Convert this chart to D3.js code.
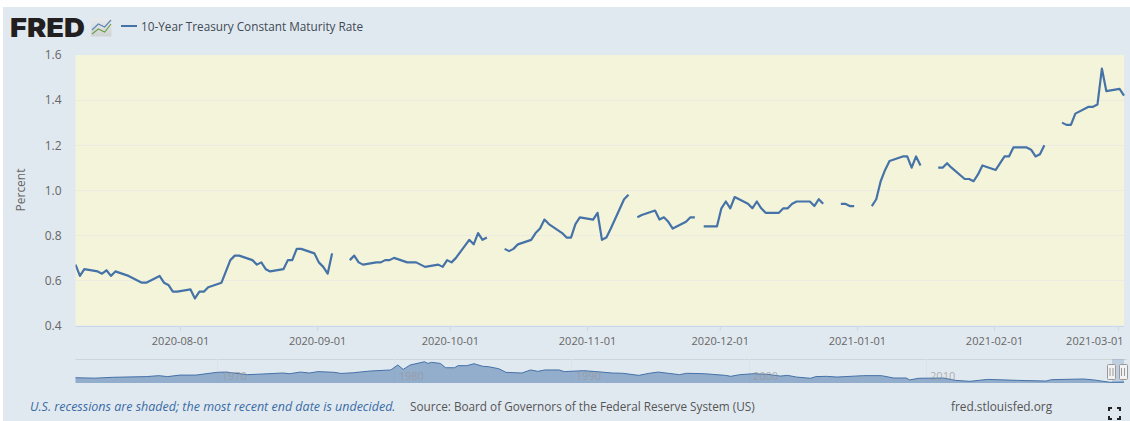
<!DOCTYPE html>
<html><head><meta charset="utf-8">
<script src="https://cdn.jsdelivr.net/npm/d3@7/dist/d3.min.js"></script>
<style>
html,body{margin:0;padding:0;background:#fff;overflow:hidden}
svg{display:block;font-family:"Open Sans",sans-serif}
</style></head><body><div id="chart"></div>
<script>
const seriesName = "10-Year Treasury Constant Maturity Rate";
const dates = ["2020-07-08","2020-07-09","2020-07-10","2020-07-13","2020-07-14","2020-07-15","2020-07-16","2020-07-17","2020-07-20","2020-07-21","2020-07-22","2020-07-23","2020-07-24","2020-07-27","2020-07-28","2020-07-29","2020-07-30","2020-07-31",
"2020-08-03","2020-08-04","2020-08-05","2020-08-06","2020-08-07","2020-08-10","2020-08-11","2020-08-12","2020-08-13","2020-08-14","2020-08-17","2020-08-18","2020-08-19","2020-08-20","2020-08-21","2020-08-24","2020-08-25","2020-08-26","2020-08-27","2020-08-28","2020-08-31",
"2020-09-01","2020-09-02","2020-09-03","2020-09-04","2020-09-07","2020-09-08","2020-09-09","2020-09-10","2020-09-11","2020-09-14","2020-09-15","2020-09-16","2020-09-17","2020-09-18","2020-09-21","2020-09-22","2020-09-23","2020-09-24","2020-09-25","2020-09-28","2020-09-29","2020-09-30",
"2020-10-01","2020-10-02","2020-10-05","2020-10-06","2020-10-07","2020-10-08","2020-10-09","2020-10-12","2020-10-13","2020-10-14","2020-10-15","2020-10-16","2020-10-19","2020-10-20","2020-10-21","2020-10-22","2020-10-23","2020-10-26","2020-10-27","2020-10-28","2020-10-29","2020-10-30",
"2020-11-02","2020-11-03","2020-11-04","2020-11-05","2020-11-06","2020-11-09","2020-11-10","2020-11-11","2020-11-12","2020-11-13","2020-11-16","2020-11-17","2020-11-18","2020-11-19","2020-11-20","2020-11-23","2020-11-24","2020-11-25","2020-11-26","2020-11-27","2020-11-30",
"2020-12-01","2020-12-02","2020-12-03","2020-12-04","2020-12-07","2020-12-08","2020-12-09","2020-12-10","2020-12-11","2020-12-14","2020-12-15","2020-12-16","2020-12-17","2020-12-18","2020-12-21","2020-12-22","2020-12-23","2020-12-24","2020-12-25","2020-12-28","2020-12-29","2020-12-30","2020-12-31",
"2021-01-01","2021-01-04","2021-01-05","2021-01-06","2021-01-07","2021-01-08","2021-01-11","2021-01-12","2021-01-13","2021-01-14","2021-01-15","2021-01-18","2021-01-19","2021-01-20","2021-01-21","2021-01-22","2021-01-25","2021-01-26","2021-01-27","2021-01-28","2021-01-29",
"2021-02-01","2021-02-02","2021-02-03","2021-02-04","2021-02-05","2021-02-08","2021-02-09","2021-02-10","2021-02-11","2021-02-12","2021-02-15","2021-02-16","2021-02-17","2021-02-18","2021-02-19","2021-02-22","2021-02-23","2021-02-24","2021-02-25","2021-02-26","2021-03-01","2021-03-02"];
const rates = [.67,.62,.65,.64,.63,.645,.62,.64,.62,.61,.60,.59,.59,.62,.59,.58,.55,.55,
.56,.52,.55,.55,.57,.59,.64,.69,.71,.71,.69,.67,.68,.65,.64,.65,.69,.69,.74,.74,.72,
.68,.66,.63,.72,null,.69,.71,.68,.67,.68,.68,.69,.69,.70,.68,.68,.68,.67,.66,.67,.66,.69,
.68,.70,.78,.76,.81,.78,.79,null,.74,.73,.74,.76,.78,.81,.83,.87,.85,.81,.79,.79,.85,.88,
.87,.90,.78,.79,.83,.96,.98,null,.88,.89,.91,.87,.88,.86,.83,.86,.88,.88,null,.84,.84,
.92,.95,.92,.97,.94,.92,.95,.92,.90,.90,.92,.92,.94,.95,.95,.93,.96,.94,null,.94,.94,.93,.93,
null,.93,.96,1.04,1.09,1.13,1.15,1.15,1.10,1.15,1.11,null,1.10,1.10,1.12,1.10,1.05,1.05,1.04,1.07,1.11,
1.09,1.12,1.15,1.15,1.19,1.19,1.18,1.15,1.16,1.20,null,1.30,1.29,1.29,1.34,1.37,1.37,1.38,1.54,1.44,1.45,1.42];
const yTicks = [0.4,0.6,0.8,1.0,1.2,1.4,1.6];
const xTickDates = ["2020-08-01","2020-09-01","2020-10-01","2020-11-01","2020-12-01","2021-01-01","2021-02-01","2021-03-01"];
const navYears = [1962.0,1963.1,1964.1,1966.0,1966.7,1967.2,1967.9,1968.8,1970.0,1970.5,1971.7,1972.6,1973.7,1974.1,1974.7,1975.2,1975.7,1976.6,1977.0,1977.7,1978.6,1979.8,1980.2,1980.5,1980.9,1981.5,1981.7,1981.9,1982.1,1982.6,1982.9,1983.4,1983.6,1984.1,1984.5,1985.0,1985.3,1985.9,1986.3,1987.2,1987.7,1988.1,1988.5,1989.3,1989.6,1990.7,1991.4,1992.3,1992.9,1993.8,1994.4,1994.9,1996.1,1996.5,1997.5,1998.7,1999.0,1999.5,2000.3,2001.1,2001.8,2002.2,2002.7,2003.5,2003.8,2004.4,2005.0,2006.5,2007.5,2008.2,2008.9,2009.1,2009.6,2011.0,2011.7,2012.5,2013.5,2015.2,2016.8,2017.1,2018.9,2019.5,2020.4,2021.2];
const navValues = [3.8,3.5,4.1,4.6,5.3,4.6,5.7,5.7,7.7,7.9,6.0,6.5,7.2,6.7,7.9,7.2,8.2,7.7,6.9,7.4,8.6,9.4,13.0,9.8,13.0,14.7,15.3,14.1,14.9,14.1,11.0,11.0,12.5,12.5,13.9,12.0,11.8,10.3,7.7,7.2,9.4,8.4,9.4,9.4,8.2,8.9,8.2,7.2,7.0,5.5,7.0,7.9,6.0,7.0,6.7,5.5,4.8,6.0,6.7,6.2,5.0,5.5,4.3,3.4,4.6,4.8,4.3,5.3,5.3,3.6,3.6,2.2,3.4,3.6,1.9,1.2,2.6,1.9,1.4,2.4,2.9,2.2,0.5,0.7];
const navLabels = [1970,1980,1990,2000,2010];
const footNote = "U.S. recessions are shaded; the most recent end date is undecided.";
const footSource = "Source: Board of Governors of the Federal Reserve System (US)";
const footSite = "fred.stlouisfed.org";

const W=1130,H=421;
const svg=d3.select("#chart").append("svg").attr("width",W).attr("height",H);
svg.append("rect").attr("x",3).attr("y",7).attr("width",W-3).attr("height",H-7).attr("fill","#e1e9f0");

const L=75.5,R=1124,T=55,B=325.5;
const parse=s=>new Date(s+"T09:00:00Z");
const tick=s=>new Date(s+"T00:00:00Z");
const x=d3.scaleUtc().domain([parse(dates[0]),parse(dates[dates.length-1])]).range([L,R]);
const y=d3.scaleLinear().domain([0.4,1.6]).range([B,T]);

svg.append("rect").attr("x",L).attr("y",T).attr("width",R-L).attr("height",B-T).attr("fill","#f4f4db");
svg.append("g").selectAll("line").data(yTicks.slice(1,-1)).join("line")
 .attr("x1",L).attr("x2",R).attr("y1",d=>Math.round(y(d))+.5).attr("y2",d=>Math.round(y(d))+.5)
 .attr("stroke","#ebebe4").attr("stroke-width",1);

const yAxis=svg.append("g").attr("transform",`translate(${L},0)`)
 .call(d3.axisLeft(y).tickValues(yTicks).tickFormat(d3.format(".1f")).tickSize(0).tickPadding(14));
yAxis.select(".domain").remove();
yAxis.selectAll("text").attr("font-size",12).attr("fill","#666").attr("font-family","'Open Sans',sans-serif");

const xAxis=svg.append("g").attr("transform",`translate(0,${B+.5})`)
 .call(d3.axisBottom(x).tickValues(xTickDates.map(tick)).tickFormat(d3.utcFormat("%Y-%m-%d")).tickSize(5).tickPadding(6));
xAxis.select(".domain").attr("stroke","#ccd6eb").attr("d",`M${L},0.5H${R}`);
xAxis.selectAll("line").attr("stroke","#ccd6eb");
xAxis.selectAll("text").attr("font-size",11).attr("fill","#666").attr("font-family","'Open Sans',sans-serif");
// the last label is pushed inside the plot's right edge
xAxis.selectAll(".tick").filter((d,i)=>i===xTickDates.length-1).select("text")
 .attr("text-anchor","end").attr("dx",R-1-x(tick(xTickDates[xTickDates.length-1])));

svg.append("text").attr("transform","translate(25,190) rotate(-90)").attr("text-anchor","middle")
 .attr("font-size",12).attr("fill","#666").text("Percent");

svg.append("clipPath").attr("id","plot").append("rect").attr("x",L).attr("y",T).attr("width",R-L+1).attr("height",B-T);
const pts=dates.map((d,i)=>({d:parse(d),v:rates[i]}));
svg.append("path").datum(pts).attr("clip-path","url(#plot)")
 .attr("fill","none").attr("stroke","#4572a7").attr("stroke-width",2.2).attr("stroke-linejoin","round")
 .attr("d",d3.line().defined(d=>d.v!==null).x(d=>x(d.d)).y(d=>y(d.v)));

// logo + legend
svg.append("text").attr("x",10).attr("y",36.5).attr("font-family","Inter,sans-serif").attr("font-weight",900)
 .attr("font-size",26).attr("textLength",75).attr("lengthAdjust","spacingAndGlyphs").attr("fill","#231f20").text("FRED");
const logoX=[0,1,2,3];
const logoA=[13,7,10,3], logoB=[17,12,15,7];
const lx=d3.scaleLinear().domain([0,3]).range([92,111]);
const grad=svg.append("linearGradient").attr("id","lg").attr("x1",0).attr("x2",0).attr("y1",0).attr("y2",1);
grad.append("stop").attr("offset",0).attr("stop-color","#e6ebee");
grad.append("stop").attr("offset",1).attr("stop-color","#cfd3d3");
svg.append("rect").attr("x",91).attr("y",18).attr("width",20.5).attr("height",18.5).attr("fill","url(#lg)");
svg.append("path").attr("fill","none").attr("stroke","#5f86b4").attr("stroke-width",1.2)
 .attr("d",d3.line().x(i=>lx(i)).y(i=>17+logoA[i])(logoX));
svg.append("path").attr("fill","none").attr("stroke","#6f9e48").attr("stroke-width",1.2)
 .attr("d",d3.line().x(i=>lx(i)).y(i=>17+logoB[i])(logoX));
svg.append("line").attr("x1",121).attr("x2",137).attr("y1",26).attr("y2",26).attr("stroke","#4572a7").attr("stroke-width",2);
svg.append("text").attr("x",141).attr("y",31).attr("font-size",11.75).attr("fill","#3f4a55").text(seriesName);

// navigator
const navT=359,navB=383;
const nx=d3.scaleLinear().domain([1962,2021.2]).range([L,R]);
const ny=d3.scaleLinear().domain([0,16]).range([navB,navB-22.2]);
svg.append("line").attr("x1",L).attr("x2",R+3).attr("y1",navT+.5).attr("y2",navT+.5).attr("stroke","#cfd4d8");
svg.append("g").selectAll("line").data(navLabels).join("line")
 .attr("x1",d=>Math.round(nx(d))+.5).attr("x2",d=>Math.round(nx(d))+.5).attr("y1",navT).attr("y2",navB).attr("stroke","#dbe2e9");
const navData=navYears.map((yr,i)=>({yr,v:navValues[i]}));
svg.append("path").datum(navData).attr("fill","#4572a7").attr("fill-opacity",.5)
 .attr("d",d3.area().x(d=>nx(d.yr)).y0(navB).y1(d=>ny(d.v)));
svg.append("path").datum(navData).attr("fill","none").attr("stroke","#4572a7").attr("stroke-width",1)
 .attr("d",d3.line().x(d=>nx(d.yr)).y(d=>ny(d.v)));
svg.append("g").selectAll("text").data(navLabels).join("text")
 .attr("x",d=>nx(d)+17).attr("y",380).attr("text-anchor","middle").attr("font-size",11).attr("fill","#999").attr("fill-opacity",.75).text(d=>d);
svg.append("rect").attr("x",1112).attr("y",navT).attr("width",12).attr("height",navB-navT).attr("fill","#4572a7").attr("fill-opacity",.22);
[[1107,1111.5],[1119,1123]].forEach(([hx,cx])=>{
 svg.append("rect").attr("x",hx+.5).attr("y",364.5).attr("width",8).attr("height",15).attr("rx",1).attr("fill","#f2f2f2").attr("stroke","#999");
 [-1.5,1.5].forEach(o=>svg.append("line").attr("x1",cx+o).attr("x2",cx+o).attr("y1",368).attr("y2",376).attr("stroke","#999"));
});

// footer
svg.append("text").attr("x",30).attr("y",411).attr("font-size",12.5).attr("font-style","italic").attr("fill","#3a6ba5").text(footNote);
svg.append("text").attr("x",410).attr("y",411).attr("font-size",11.75).attr("fill","#555").text(footSource);
svg.append("text").attr("x",951).attr("y",411).attr("font-size",11.85).attr("fill","#555").text(footSite);

const fs=[[1109,408,1,1],[1120,408,-1,1],[1109,419,1,-1],[1120,419,-1,-1]];
svg.append("g").selectAll("path").data(fs).join("path").attr("fill","none").attr("stroke","#222").attr("stroke-width",2)
 .attr("d",d=>d3.line()([[d[0]+3*d[2],d[1]],[d[0],d[1]],[d[0],d[1]+3*d[3]]]));
</script></body></html>
